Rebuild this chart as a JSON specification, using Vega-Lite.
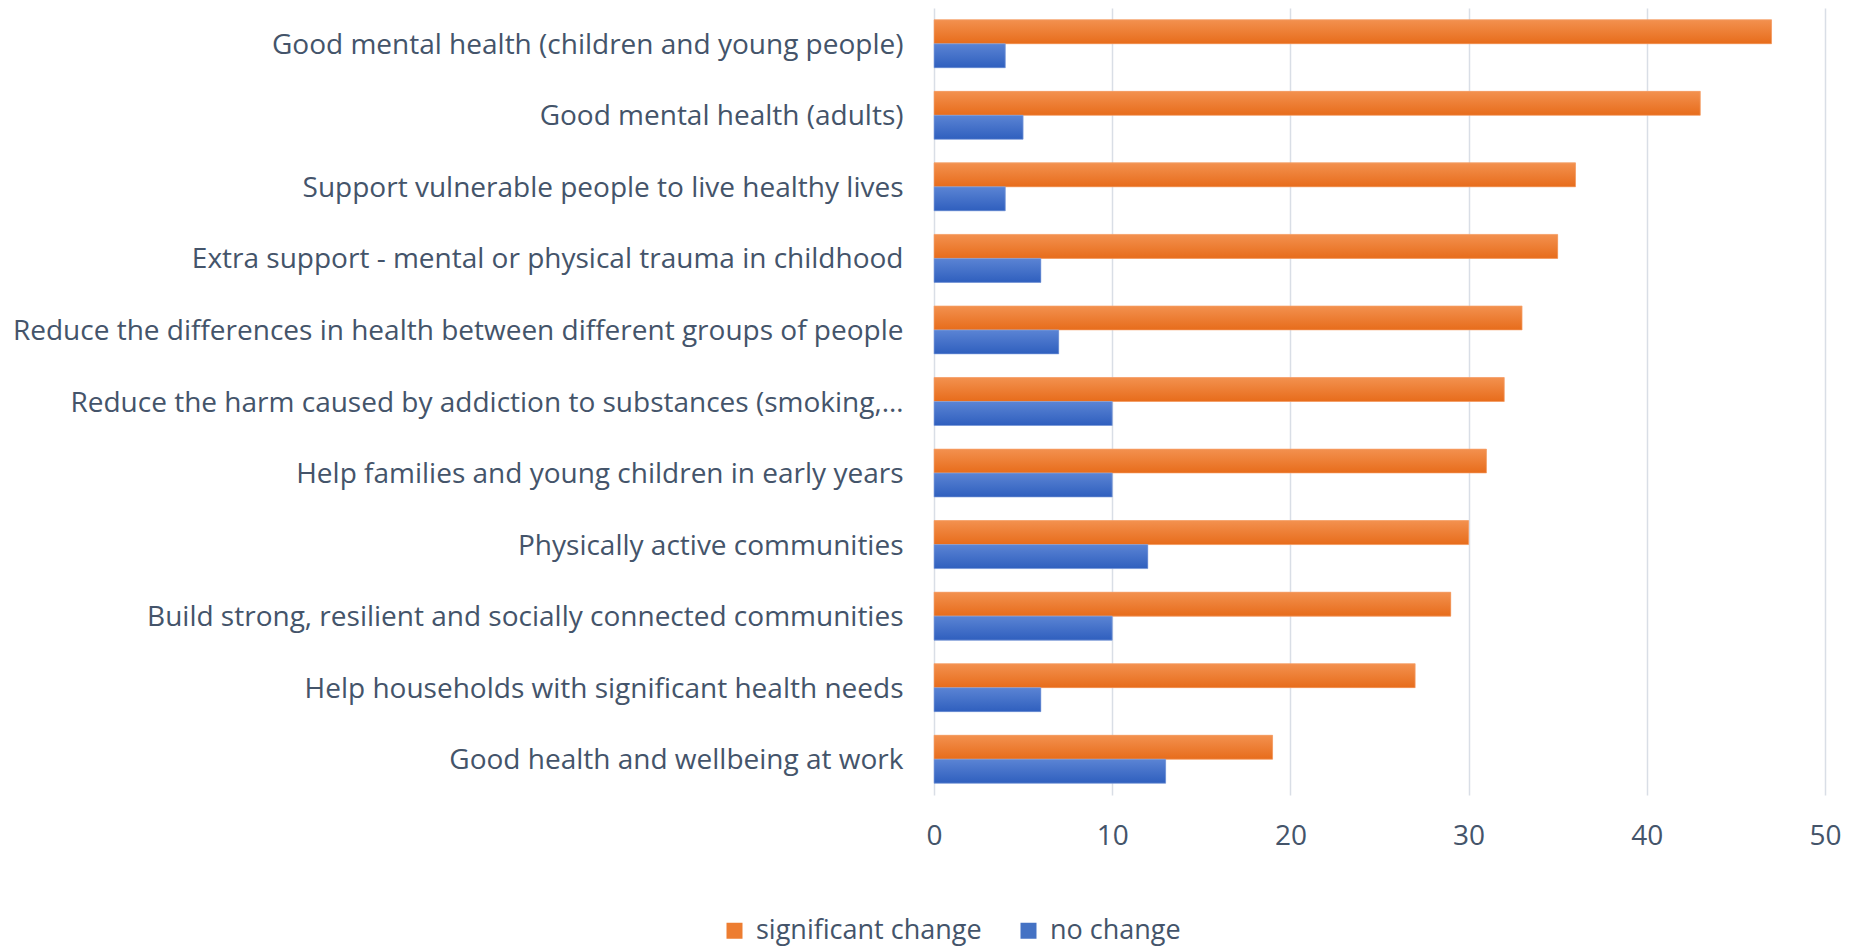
{
  "$schema": "https://vega.github.io/schema/vega-lite/v6.json",
  "width": 891,
  "height": 787,
  "autosize": "none",
  "padding": {"left": 934, "top": 8, "right": 29, "bottom": 153},
  "background": "#ffffff",
  "config": {
    "view": {"stroke": null},
    "font": "Open Sans",
    "axis": {"labelFont": "Open Sans", "labelColor": "#44546A"},
    "legend": {"labelFont": "Open Sans", "labelColor": "#44546A"}
  },
  "data": {
    "values": [
      {"category": "Good mental health (children and young people)", "series": "significant change", "value": 47},
      {"category": "Good mental health (children and young people)", "series": "no change", "value": 4},
      {"category": "Good mental health (adults) ", "series": "significant change", "value": 43},
      {"category": "Good mental health (adults) ", "series": "no change", "value": 5},
      {"category": "Support vulnerable people to live healthy lives", "series": "significant change", "value": 36},
      {"category": "Support vulnerable people to live healthy lives", "series": "no change", "value": 4},
      {"category": "Extra support - mental or physical trauma in childhood", "series": "significant change", "value": 35},
      {"category": "Extra support - mental or physical trauma in childhood", "series": "no change", "value": 6},
      {"category": "Reduce the differences in health between different groups of people", "series": "significant change", "value": 33},
      {"category": "Reduce the differences in health between different groups of people", "series": "no change", "value": 7},
      {"category": "Reduce the harm caused by addiction to substances (smoking,…", "series": "significant change", "value": 32},
      {"category": "Reduce the harm caused by addiction to substances (smoking,…", "series": "no change", "value": 10},
      {"category": "Help families and young children in early years", "series": "significant change", "value": 31},
      {"category": "Help families and young children in early years", "series": "no change", "value": 10},
      {"category": "Physically active communities", "series": "significant change", "value": 30},
      {"category": "Physically active communities", "series": "no change", "value": 12},
      {"category": "Build strong, resilient and socially connected communities ", "series": "significant change", "value": 29},
      {"category": "Build strong, resilient and socially connected communities ", "series": "no change", "value": 10},
      {"category": "Help households with significant health needs", "series": "significant change", "value": 27},
      {"category": "Help households with significant health needs", "series": "no change", "value": 6},
      {"category": "Good health and wellbeing at work", "series": "significant change", "value": 19},
      {"category": "Good health and wellbeing at work", "series": "no change", "value": 13}
    ]
  },
  "encoding": {
    "y": {
      "field": "category",
      "type": "nominal",
      "sort": null,
      "scale": {"paddingInner": 0.329, "paddingOuter": 0.1645},
      "axis": {
        "title": null,
        "ticks": false,
        "domain": false,
        "grid": false,
        "labelFontSize": 28,
        "labelPadding": 31,
        "labelOffset": 2,
        "labelLimit": 0
      }
    },
    "yOffset": {
      "field": "series",
      "type": "nominal",
      "scale": {"domain": ["significant change", "no change"], "paddingInner": 0, "paddingOuter": 0}
    },
    "x": {
      "field": "value",
      "type": "quantitative",
      "scale": {"domain": [0, 50], "nice": false},
      "axis": {
        "title": null,
        "values": [0, 10, 20, 30, 40, 50],
        "ticks": false,
        "domain": false,
        "grid": true,
        "gridColor": "#D9DEE6",
        "gridWidth": 1.5,
        "labelFontSize": 28,
        "labelPadding": 27,
        "labelFlush": false
      }
    }
  },
  "layer": [
    {
      "mark": {"type": "bar"},
      "encoding": {
        "color": {
          "field": "series",
          "type": "nominal",
          "scale": {
            "domain": ["significant change", "no change"],
            "range": ["#ED7D31", "#4472C4"]
          },
          "legend": {
            "title": null,
            "orient": "none",
            "direction": "horizontal",
            "legendX": -213,
            "legendY": 909,
            "padding": 0,
            "symbolType": "square",
            "symbolSize": 256,
            "symbolStrokeWidth": 0,
            "labelFontSize": 27,
            "labelOffset": 8,
            "columnPadding": 33,
            "labelLimit": 0
          }
        }
      }
    },
    {
      "mark": {"type": "bar", "strokeWidth": 1, "strokeOpacity": 0.6},
      "encoding": {
        "fill": {
          "condition": {
            "test": "datum.series === 'no change'",
            "value": {"gradient": "linear", "x1": 0, "y1": 0, "x2": 0, "y2": 1, "stops": [{"offset": 0, "color": "#5B84D4"}, {"offset": 1, "color": "#2F5FBE"}]}
          },
          "value": {"gradient": "linear", "x1": 0, "y1": 0, "x2": 0, "y2": 1, "stops": [{"offset": 0, "color": "#F3914F"}, {"offset": 1, "color": "#E76C1B"}]}
        },
        "stroke": {
          "condition": {"test": "datum.series === 'no change'", "value": "#8EA9E0"},
          "value": "#F6A774"
        }
      }
    }
  ]
}
